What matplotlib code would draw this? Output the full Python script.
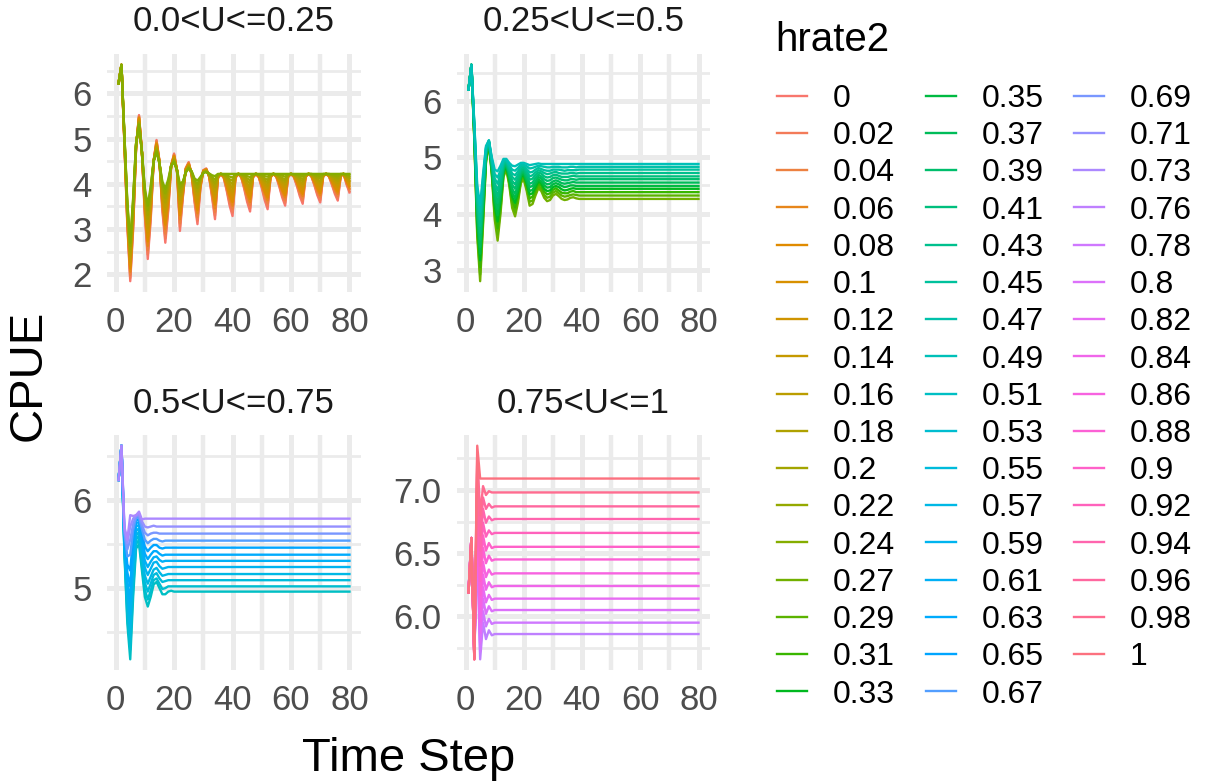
import numpy as np
import matplotlib
matplotlib.use("Agg")
import matplotlib.pyplot as plt
from matplotlib.lines import Line2D

plt.rcParams['font.family'] = ['Liberation Sans', 'DejaVu Sans']

# ------------------------------------------------------------------ data
N_STEPS = 80
hrate_labels = ["0", "0.02", "0.04", "0.06", "0.08", "0.1", "0.12", "0.14", "0.16", "0.18",
                "0.2", "0.22", "0.24", "0.27", "0.29", "0.31", "0.33", "0.35", "0.37", "0.39",
                "0.41", "0.43", "0.45", "0.47", "0.49", "0.51", "0.53", "0.55", "0.57", "0.59",
                "0.61", "0.63", "0.65", "0.67", "0.69", "0.71", "0.73", "0.76", "0.78", "0.8",
                "0.82", "0.84", "0.86", "0.88", "0.9", "0.92", "0.94", "0.96", "0.98", "1"]
facet_labels = ["0.0<U<=0.25", "0.25<U<=0.5", "0.5<U<=0.75", "0.75<U<=1"]

# Panel 1 (hrate 0 ... 0.24): CPUE per time step (flat tail held at final value)
p1_series = [
    [6.22, 6.63, 4.90, 3.10, 1.85, 3.00, 4.80, 5.52, 4.70, 3.30,
     2.34, 3.20, 4.50, 4.97, 4.50, 3.40, 2.70, 3.40, 4.40, 4.67,
     4.30, 2.96, 3.70, 4.35, 4.48, 4.20, 3.60, 3.11, 3.90, 4.30,
     4.34, 4.15, 3.70, 3.22, 4.12, 4.22, 4.13, 3.85, 3.52, 3.29,
     4.13, 4.22, 4.14, 3.89, 3.60, 3.39, 4.14, 4.22, 4.14, 3.91,
     3.64, 3.44, 4.14, 4.22, 4.15, 3.94, 3.70, 3.52, 4.15, 4.22,
     4.15, 3.96, 3.73, 3.56, 4.15, 4.22, 4.16, 3.97, 3.75, 3.59,
     4.16, 4.22, 4.16, 3.98, 3.78, 3.63, 4.16, 4.22, 3.99, 3.81],
    [6.22, 6.63, 4.92, 3.14, 1.92, 3.06, 4.81, 5.50, 4.70, 3.35,
     2.44, 3.26, 4.50, 4.95, 4.50, 3.45, 2.80, 3.46, 4.40, 4.65,
     4.30, 3.05, 3.73, 4.34, 4.47, 4.21, 3.64, 3.19, 3.92, 4.30,
     4.33, 4.16, 3.74, 3.30, 4.13, 4.22, 4.14, 3.88, 3.58, 3.37,
     4.14, 4.22, 4.15, 3.92, 3.65, 3.46, 4.15, 4.22, 4.15, 3.94,
     3.69, 3.51, 4.15, 4.22, 4.16, 3.96, 3.74, 3.58, 4.16, 4.22,
     4.16, 3.98, 3.77, 3.62, 4.16, 4.22, 4.17, 3.99, 3.79, 3.64,
     4.17, 4.22, 4.17, 4.00, 3.82, 3.68, 4.17, 4.22, 4.01, 3.84],
    [6.22, 6.63, 4.93, 3.18, 1.99, 3.12, 4.82, 5.48, 4.70, 3.40,
     2.54, 3.33, 4.50, 4.93, 4.49, 3.51, 2.90, 3.52, 4.40, 4.64,
     4.30, 3.13, 3.76, 4.33, 4.46, 4.21, 3.69, 3.27, 3.94, 4.29,
     4.33, 4.16, 3.78, 3.38, 4.14, 4.22, 4.15, 3.91, 3.64, 3.45,
     4.15, 4.22, 4.15, 3.95, 3.70, 3.53, 4.15, 4.22, 4.15, 3.96,
     3.74, 3.57, 4.15, 4.22, 4.16, 3.99, 3.79, 3.64, 4.16, 4.22,
     4.16, 4.00, 3.81, 3.67, 4.16, 4.22, 4.17, 4.01, 3.83, 3.70,
     4.17, 4.22, 4.17, 4.02, 3.85, 3.73, 4.17, 4.22, 4.03, 3.88],
    [6.22, 6.63, 4.95, 3.23, 2.06, 3.18, 4.83, 5.47, 4.70, 3.45,
     2.63, 3.39, 4.50, 4.91, 4.49, 3.56, 3.00, 3.58, 4.40, 4.62,
     4.30, 3.22, 3.79, 4.33, 4.45, 4.22, 3.73, 3.35, 3.96, 4.29,
     4.32, 4.17, 3.82, 3.46, 4.15, 4.22, 4.15, 3.94, 3.70, 3.52,
     4.15, 4.22, 4.16, 3.97, 3.76, 3.60, 4.16, 4.22, 4.16, 3.99,
     3.79, 3.64, 4.16, 4.22, 4.17, 4.01, 3.83, 3.70, 4.17, 4.22,
     4.17, 4.03, 3.85, 3.73, 4.17, 4.22, 4.18, 4.03, 3.87, 3.75,
     4.18, 4.22, 4.18, 4.04, 3.89, 3.78, 4.18, 4.22, 4.05, 3.91],
    [6.22, 6.63, 4.97, 3.27, 2.13, 3.23, 4.83, 5.45, 4.70, 3.50,
     2.73, 3.45, 4.50, 4.88, 4.48, 3.62, 3.10, 3.63, 4.40, 4.61,
     4.30, 3.31, 3.82, 4.32, 4.43, 4.23, 3.77, 3.43, 3.98, 4.28,
     4.31, 4.18, 3.86, 3.54, 4.15, 4.22, 4.16, 3.97, 3.75, 3.60,
     4.16, 4.22, 4.17, 4.00, 3.81, 3.67, 4.17, 4.22, 4.17, 4.01,
     3.83, 3.70, 4.17, 4.22, 4.17, 4.03, 3.87, 3.75, 4.17, 4.22,
     4.17, 4.05, 3.89, 3.78, 4.17, 4.22, 4.18, 4.05, 3.91, 3.80,
     4.18, 4.22, 4.18, 4.06, 3.93, 3.83, 4.18, 4.22, 4.07, 3.95],
    [6.22, 6.63, 4.98, 3.31, 2.20, 3.29, 4.84, 5.43, 4.70, 3.55,
     2.83, 3.51, 4.50, 4.86, 4.48, 3.67, 3.20, 3.69, 4.40, 4.59,
     4.30, 3.39, 3.85, 4.31, 4.42, 4.23, 3.82, 3.51, 4.00, 4.28,
     4.31, 4.18, 3.90, 3.62, 4.16, 4.22, 4.17, 4.00, 3.81, 3.68,
     4.17, 4.22, 4.17, 4.03, 3.86, 3.74, 4.17, 4.22, 4.17, 4.04,
     3.88, 3.77, 4.17, 4.22, 4.18, 4.06, 3.92, 3.81, 4.18, 4.22,
     4.18, 4.07, 3.93, 3.84, 4.18, 4.22, 4.19, 4.07, 3.94, 3.85,
     4.19, 4.22, 4.19, 4.08, 3.96, 3.88, 4.19, 4.22, 4.09, 3.98],
    [6.22, 6.63, 5.00, 3.35, 2.28, 3.35, 4.85, 5.41, 4.70, 3.60,
     2.93, 3.58, 4.50, 4.84, 4.48, 3.73, 3.30, 3.75, 4.40, 4.58,
     4.30, 3.48, 3.88, 4.30, 4.41, 4.24, 3.86, 3.59, 4.03, 4.27,
     4.30, 4.19, 3.95, 3.70, 4.17, 4.22, 4.18, 4.04, 3.87, 3.76,
     4.18, 4.22, 4.18, 4.06, 3.91, 3.81, 4.18, 4.22, 4.18, 4.07,
     3.93, 3.83, 4.18, 4.22, 4.19, 4.08, 3.96, 3.87, 4.19, 4.22,
     4.19, 4.09, 3.98, 3.89, 4.19, 4.22, 4.19, 4.10, 3.98, 3.91,
     4.19, 4.22, 4.19, 4.10, 4.00, 3.93, 4.19, 4.22, 4.11, 4.02],
    [6.22, 6.63, 5.02, 3.39, 2.35, 3.41, 4.86, 5.39, 4.70, 3.65,
     3.03, 3.64, 4.50, 4.82, 4.47, 3.78, 3.39, 3.81, 4.40, 4.56,
     4.30, 3.57, 3.90, 4.29, 4.40, 4.25, 3.90, 3.67, 4.05, 4.27,
     4.29, 4.20, 3.99, 3.77, 4.18, 4.22, 4.18, 4.07, 3.93, 3.83,
     4.18, 4.22, 4.19, 4.08, 3.96, 3.87, 4.19, 4.22, 4.19, 4.09,
     3.98, 3.90, 4.19, 4.22, 4.19, 4.10, 4.00, 3.93, 4.19, 4.22,
     4.19, 4.11, 4.02, 3.95, 4.19, 4.22, 4.20, 4.12, 4.02, 3.96,
     4.20, 4.22, 4.20, 4.12, 4.04, 3.97, 4.20, 4.22, 4.13, 4.05],
    [6.22, 6.63, 5.03, 3.43, 2.42, 3.47, 4.87, 5.37, 4.70, 3.70,
     3.13, 3.70, 4.50, 4.80, 4.47, 3.83, 3.49, 3.87, 4.40, 4.54,
     4.30, 3.65, 3.93, 4.28, 4.39, 4.25, 3.95, 3.75, 4.07, 4.26,
     4.29, 4.20, 4.03, 3.85, 4.19, 4.22, 4.19, 4.10, 3.99, 3.91,
     4.19, 4.22, 4.19, 4.11, 4.01, 3.94, 4.19, 4.22, 4.19, 4.12,
     4.03, 3.96, 4.19, 4.22, 4.20, 4.13, 4.05, 3.99, 4.20, 4.22,
     4.20, 4.14, 4.06, 4.00, 4.20, 4.22, 4.20, 4.14, 4.06, 4.01,
     4.20, 4.22, 4.20, 4.14, 4.07, 4.02, 4.20, 4.22, 4.14, 4.08],
    [6.22, 6.63, 5.05, 3.48, 2.49, 3.53, 4.88, 5.36, 4.70, 3.75,
     3.23, 3.76, 4.50, 4.78, 4.46, 3.89, 3.59, 3.93, 4.40, 4.53,
     4.30, 3.74, 3.96, 4.28, 4.38, 4.26, 3.99, 3.83, 4.09, 4.26,
     4.28, 4.21, 4.07, 3.93, 4.20, 4.22, 4.20, 4.13, 4.05, 3.99,
     4.20, 4.22, 4.20, 4.14, 4.07, 4.01, 4.20, 4.22, 4.20, 4.14,
     4.08, 4.03, 4.20, 4.22, 4.20, 4.15, 4.09, 4.05, 4.20, 4.22,
     4.20, 4.16, 4.10, 4.06, 4.20, 4.22, 4.21, 4.16, 4.10, 4.06,
     4.21, 4.22, 4.21, 4.16, 4.11, 4.07, 4.21, 4.22, 4.16, 4.12],
    [6.22, 6.63, 5.07, 3.52, 2.56, 3.58, 4.88, 5.34, 4.70, 3.80,
     3.32, 3.83, 4.50, 4.75, 4.46, 3.94, 3.69, 3.98, 4.40, 4.51,
     4.30, 3.83, 3.99, 4.27, 4.36, 4.27, 4.03, 3.91, 4.11, 4.25,
     4.27, 4.22, 4.11, 4.01, 4.20, 4.22, 4.21, 4.16, 4.10, 4.07,
     4.21, 4.22, 4.21, 4.17, 4.12, 4.08, 4.21, 4.22, 4.21, 4.17,
     4.12, 4.09, 4.21, 4.22, 4.21, 4.17, 4.13, 4.10, 4.21, 4.22,
     4.21, 4.18, 4.14, 4.11, 4.21, 4.22, 4.21, 4.18, 4.14, 4.12,
     4.21, 4.22, 4.21, 4.18, 4.15, 4.12, 4.21, 4.22, 4.18, 4.15],
    [6.22, 6.63, 5.08, 3.56, 2.63, 3.64, 4.89, 5.32, 4.70, 3.85,
     3.42, 3.89, 4.50, 4.73, 4.45, 4.00, 3.79, 4.04, 4.40, 4.50,
     4.30, 3.91, 4.02, 4.26, 4.35, 4.27, 4.08, 3.99, 4.13, 4.25,
     4.27, 4.22, 4.15, 4.09, 4.21, 4.22, 4.21, 4.19, 4.16, 4.14,
     4.21, 4.22, 4.21, 4.19, 4.17, 4.15, 4.21, 4.22, 4.21, 4.19,
     4.17, 4.16, 4.21, 4.22, 4.21, 4.20, 4.18, 4.16, 4.21, 4.22,
     4.21, 4.20, 4.18, 4.17, 4.21, 4.22, 4.22, 4.20, 4.18, 4.17,
     4.22, 4.22, 4.22, 4.20, 4.18, 4.17, 4.22, 4.22, 4.20, 4.19],
    [6.22, 6.63, 5.10, 3.60, 2.70, 3.70, 4.90, 5.30, 4.70, 3.90,
     3.52, 3.95, 4.50, 4.71, 4.45, 4.05, 3.89, 4.10, 4.40, 4.48,
     4.30, 4.00, 4.05, 4.25, 4.34, 4.28, 4.12, 4.07, 4.15, 4.24,
     4.26, 4.23, 4.19, 4.17, 4.22],
]
p1_final = [3.81, 3.84, 3.88, 3.91, 3.95, 3.98, 4.02, 4.05, 4.08, 4.12, 4.15, 4.19, 4.22]

# Panel 2 (hrate 0.27 ... 0.49)
p2_series = [
    [6.20, 6.64, 5.30, 3.60, 2.80, 3.80, 4.90, 5.25, 4.70, 3.90, 3.52, 4.00, 4.65, 4.78, 4.50, 4.10, 3.95, 4.20, 4.55, 4.60,
     4.40, 4.14, 4.17, 4.32, 4.45, 4.40, 4.28, 4.22, 4.24, 4.32, 4.35, 4.31, 4.26, 4.24, 4.25, 4.28, 4.29, 4.27],
    [6.20, 6.64, 5.33, 3.68, 2.92, 3.88, 4.93, 5.25, 4.73, 3.98, 3.63, 4.08, 4.68, 4.80, 4.54, 4.17, 4.03, 4.26, 4.58, 4.63,
     4.44, 4.21, 4.23, 4.37, 4.49, 4.44, 4.33, 4.28, 4.30, 4.37, 4.40, 4.36, 4.32, 4.30, 4.31, 4.33, 4.34, 4.33],
    [6.20, 6.64, 5.35, 3.76, 3.05, 3.96, 4.95, 5.26, 4.75, 4.06, 3.74, 4.15, 4.71, 4.82, 4.57, 4.24, 4.11, 4.32, 4.61, 4.65,
     4.49, 4.27, 4.30, 4.42, 4.53, 4.49, 4.39, 4.34, 4.36, 4.42, 4.45, 4.41, 4.37, 4.36, 4.36, 4.39, 4.40, 4.38],
    [6.20, 6.64, 5.38, 3.85, 3.17, 4.05, 4.98, 5.26, 4.78, 4.14, 3.86, 4.23, 4.74, 4.83, 4.61, 4.30, 4.19, 4.38, 4.65, 4.68,
     4.53, 4.34, 4.36, 4.47, 4.57, 4.53, 4.44, 4.40, 4.41, 4.47, 4.49, 4.47, 4.43, 4.41, 4.42, 4.44, 4.45, 4.44],
    [6.20, 6.64, 5.41, 3.93, 3.29, 4.13, 5.01, 5.27, 4.81, 4.22, 3.97, 4.31, 4.77, 4.85, 4.65, 4.37, 4.27, 4.44, 4.68, 4.71,
     4.57, 4.40, 4.42, 4.52, 4.61, 4.57, 4.50, 4.46, 4.47, 4.52, 4.54, 4.52, 4.49, 4.47, 4.48, 4.50, 4.50, 4.49],
    [6.20, 6.64, 5.44, 4.01, 3.41, 4.21, 5.04, 5.27, 4.84, 4.30, 4.08, 4.39, 4.80, 4.87, 4.68, 4.44, 4.35, 4.50, 4.71, 4.74,
     4.62, 4.47, 4.49, 4.57, 4.65, 4.62, 4.55, 4.52, 4.53, 4.57, 4.59, 4.57, 4.54, 4.53, 4.54, 4.55, 4.56, 4.55],
    [6.20, 6.64, 5.46, 4.09, 3.54, 4.29, 5.06, 5.27, 4.86, 4.38, 4.19, 4.46, 4.82, 4.88, 4.72, 4.51, 4.44, 4.57, 4.74, 4.76,
     4.66, 4.53, 4.55, 4.63, 4.69, 4.66, 4.61, 4.58, 4.59, 4.63, 4.64, 4.62, 4.60, 4.59, 4.59, 4.61, 4.61, 4.60],
    [6.20, 6.64, 5.49, 4.17, 3.66, 4.37, 5.09, 5.28, 4.89, 4.46, 4.30, 4.54, 4.85, 4.90, 4.75, 4.58, 4.52, 4.63, 4.77, 4.79,
     4.71, 4.60, 4.62, 4.68, 4.73, 4.71, 4.66, 4.64, 4.65, 4.68, 4.69, 4.67, 4.65, 4.65, 4.65, 4.66, 4.67, 4.66],
    [6.20, 6.64, 5.52, 4.25, 3.78, 4.45, 5.12, 5.29, 4.92, 4.54, 4.41, 4.62, 4.88, 4.92, 4.79, 4.65, 4.60, 4.69, 4.80, 4.82,
     4.75, 4.66, 4.68, 4.73, 4.77, 4.75, 4.72, 4.70, 4.71, 4.73, 4.74, 4.72, 4.71, 4.71, 4.71, 4.72, 4.72, 4.71],
    [6.20, 6.64, 5.55, 4.34, 3.90, 4.54, 5.15, 5.29, 4.95, 4.62, 4.53, 4.70, 4.91, 4.94, 4.83, 4.71, 4.68, 4.75, 4.84, 4.85,
     4.79, 4.73, 4.74, 4.78, 4.81, 4.79, 4.77, 4.76, 4.76, 4.78, 4.78, 4.78, 4.77, 4.76, 4.77, 4.77, 4.77, 4.77],
    [6.20, 6.64, 5.57, 4.42, 4.03, 4.62, 5.17, 5.30, 4.97, 4.70, 4.64, 4.77, 4.94, 4.95, 4.86, 4.78, 4.76, 4.81, 4.87, 4.87,
     4.84, 4.80, 4.81, 4.83, 4.85, 4.84, 4.83, 4.82, 4.82, 4.83, 4.83, 4.83, 4.82, 4.82, 4.82, 4.83, 4.83, 4.82],
    [6.20, 6.64, 5.60, 4.50, 4.15, 4.70, 5.20, 5.30, 5.00, 4.78, 4.75, 4.85, 4.97, 4.97, 4.90, 4.85, 4.84, 4.87, 4.90, 4.90,
     4.88, 4.86, 4.87, 4.88, 4.89],
]
p2_final = [4.26, 4.32, 4.38, 4.44, 4.49, 4.55, 4.61, 4.66, 4.72, 4.78, 4.83, 4.88]

# Panel 3 (hrate 0.51 ... 0.73)
p3_series = [
    [6.23, 6.62, 5.40, 4.60, 4.19, 4.90, 5.45, 5.50, 5.20, 4.90, 4.79, 4.90, 5.04, 5.07, 5.00, 4.93, 4.93, 4.96, 4.97],
    [6.23, 6.62, 5.42, 4.68, 4.30, 5.00, 5.50, 5.55, 5.25, 4.98, 4.87, 4.97, 5.09, 5.11, 5.05, 4.99, 5.00, 5.02],
    [6.23, 6.62, 5.45, 4.78, 4.42, 5.10, 5.55, 5.60, 5.32, 5.06, 4.96, 5.05, 5.15, 5.17, 5.11, 5.07, 5.08],
    [6.23, 6.62, 5.48, 4.88, 4.55, 5.20, 5.60, 5.64, 5.38, 5.14, 5.05, 5.13, 5.21, 5.23, 5.18, 5.14, 5.15],
    [6.23, 6.62, 5.50, 4.98, 4.70, 5.30, 5.65, 5.68, 5.45, 5.23, 5.15, 5.22, 5.29, 5.30, 5.25, 5.22, 5.23],
    [6.23, 6.62, 5.53, 5.08, 4.86, 5.40, 5.70, 5.72, 5.51, 5.31, 5.24, 5.30, 5.35, 5.36, 5.32, 5.30],
    [6.23, 6.62, 5.56, 5.18, 5.02, 5.50, 5.74, 5.75, 5.57, 5.39, 5.33, 5.38, 5.42, 5.42, 5.39, 5.37],
    [6.23, 6.62, 5.59, 5.27, 5.20, 5.58, 5.77, 5.78, 5.62, 5.47, 5.42, 5.46, 5.49, 5.49, 5.46, 5.45],
    [6.23, 6.62, 5.62, 5.36, 5.38, 5.66, 5.80, 5.80, 5.67, 5.55, 5.51, 5.54, 5.56, 5.56, 5.54, 5.53],
    [6.23, 6.62, 5.65, 5.44, 5.55, 5.73, 5.82, 5.82, 5.72, 5.63, 5.60, 5.62, 5.63, 5.63],
    [6.23, 6.62, 5.68, 5.51, 5.70, 5.79, 5.83, 5.84, 5.76, 5.70, 5.69, 5.70, 5.71],
    [6.23, 6.62, 5.70, 5.55, 5.83, 5.82, 5.83, 5.87, 5.78],
]
p3_final = [4.96, 5.02, 5.09, 5.16, 5.24, 5.31, 5.38, 5.46, 5.54, 5.62, 5.70, 5.79]

# Panel 4 (hrate 0.76 ... 1)
p4_series = [
    [6.19, 6.62, 5.70, 6.55, 5.66, 5.95, 5.82, 5.89, 5.85],
    [6.19, 6.62, 5.69, 6.62, 5.72, 6.04, 5.92, 5.98, 5.94],
    [6.19, 6.62, 5.69, 6.69, 5.79, 6.14, 6.02, 6.08, 6.04],
    [6.19, 6.62, 5.68, 6.76, 5.87, 6.23, 6.11, 6.17, 6.13],
    [6.19, 6.62, 5.68, 6.83, 5.96, 6.33, 6.21, 6.27, 6.23],
    [6.19, 6.62, 5.68, 6.90, 6.06, 6.43, 6.31, 6.37, 6.33],
    [6.19, 6.62, 5.67, 6.97, 6.17, 6.54, 6.42, 6.48, 6.44],
    [6.19, 6.62, 5.67, 7.04, 6.28, 6.64, 6.52, 6.58, 6.54],
    [6.19, 6.62, 5.67, 7.10, 6.40, 6.74, 6.63, 6.68, 6.65],
    [6.19, 6.62, 5.66, 7.17, 6.52, 6.85, 6.74, 6.79, 6.76],
    [6.19, 6.62, 5.66, 7.23, 6.64, 6.94, 6.85, 6.89, 6.86],
    [6.19, 6.62, 5.66, 7.29, 6.80, 7.03, 6.96, 6.99, 6.98],
    [6.19, 6.62, 5.66, 7.35, 7.09],
]
p4_final = [5.86, 5.95, 6.05, 6.14, 6.24, 6.34, 6.45, 6.55, 6.66, 6.77, 6.87, 6.98, 7.09]

x_major = [0, 20, 40, 60, 80]
x_minor = [10, 30, 50, 70]
y_major = [[2, 3, 4, 5, 6], [3, 4, 5, 6], [5, 6], [6.0, 6.5, 7.0]]
y_major_labels = [["2", "3", "4", "5", "6"], ["3", "4", "5", "6"], ["5", "6"], ["6.0", "6.5", "7.0"]]
y_minor = [[2.5, 3.5, 4.5, 5.5, 6.5], [3.5, 4.5, 5.5, 6.5], [4.5, 5.5, 6.5], [5.75, 6.25, 6.75, 7.25]]


# ------------------------------------------------------------------ colours (ggplot hue palette)
def hcl_hex(h, c=100.0, l=65.0):
    hr = np.deg2rad(h)
    u, v = c * np.cos(hr), c * np.sin(hr)
    Xn, Yn, Zn = 95.047, 100.0, 108.883
    Y = Yn * ((l + 16) / 116) ** 3
    den = Xn + 15 * Yn + 3 * Zn
    un, vn = 4 * Xn / den, 9 * Yn / den
    up, vp = u / (13 * l) + un, v / (13 * l) + vn
    X = 9 * Y * up / (4 * vp)
    Z = -X / 3 - 5 * Y + 3 * Y / vp
    X, Y, Z = X / 100, Y / 100, Z / 100
    rgb = [3.240479 * X - 1.537150 * Y - 0.498535 * Z,
           -0.969256 * X + 1.875992 * Y + 0.041556 * Z,
           0.055648 * X - 0.204043 * Y + 1.057311 * Z]
    out = []
    for ch in rgb:
        ch = 1.055 * ch ** (1 / 2.4) - 0.055 if ch > 0.0031308 else 12.92 * ch
        out.append(min(max(ch, 0.0), 1.0))
    return tuple(out)


n_levels = len(hrate_labels)
colors = [hcl_hex(15 + 360.0 * i / n_levels) for i in range(n_levels)]

# ------------------------------------------------------------------ figure
W, H = 1206, 783
fig = plt.figure(figsize=(W / 100, H / 100), dpi=100)
fig.patch.set_facecolor('white')


def frac_rect(x0, y0, x1, y1):
    return [x0 / W, 1 - y1 / H, (x1 - x0) / W, (y1 - y0) / H]


rects = [frac_rect(107, 54, 361, 292), frac_rect(457, 54, 710, 292),
         frac_rect(107, 435, 361, 670), frac_rect(457, 435, 710, 670)]

panels = [(p1_series, p1_final), (p2_series, p2_final), (p3_series, p3_final), (p4_series, p4_final)]

GRID = '#EBEBEB'
start = 0
for pi, (series, finals) in enumerate(panels):
    ax = fig.add_axes(rects[pi])
    ax.set_facecolor('white')
    for j, (vals, fin) in enumerate(zip(series, finals)):
        vals = list(vals) + [fin] * max(0, N_STEPS - len(vals))
        t = np.arange(1, len(vals) + 1)
        ax.plot(t, vals, color=colors[start + j], lw=1.7, solid_joinstyle='round', zorder=3)
    start += len(series)
    ax.margins(x=0.05, y=0.05)
    ax.set_xticks(x_major)
    ax.set_xticks(x_minor, minor=True)
    ax.set_yticks(y_major[pi])
    ax.set_yticklabels(y_major_labels[pi])
    ax.set_yticks(y_minor[pi], minor=True)
    ax.grid(which='major', axis='both', color=GRID, lw=3.6, zorder=0)
    ax.grid(which='minor', axis='x', color=GRID, lw=3.2, zorder=0)
    ax.grid(which='minor', axis='y', color=GRID, lw=2.0, zorder=0)
    ax.set_axisbelow(True)
    for s in ax.spines.values():
        s.set_visible(False)
    ax.tick_params(which='both', length=0)
    ax.tick_params(axis='x', labelsize=25, labelcolor='#4D4D4D', pad=10)
    ax.tick_params(axis='y', labelsize=25, labelcolor='#4D4D4D', pad=11)
    ax.text(0.5, 1.135, facet_labels[pi], transform=ax.transAxes, ha='center', va='center',
            fontsize=25, color='#1A1A1A')

fig.text((107 + 710) / 2 / W, 1 - 771 / H, 'Time Step', ha='center', va='baseline', fontsize=34, color='black')
fig.text(29 / W, 1 - 375 / H, 'CPUE', ha='center', va='center', rotation=90, fontsize=34, color='black')

# legend
handles = [Line2D([], [], color=colors[i], lw=1.7) for i in range(n_levels)]
fig.text(775 / W, 1 - 40 / H, 'hrate2', ha='left', va='center', fontsize=29, color='black')
fig.legend(handles, hrate_labels, ncol=3, loc='upper left', bbox_to_anchor=(777 / W, 1 - 84 / H),
           frameon=False, fontsize=23, handlelength=0.95, handletextpad=0.8, columnspacing=0.95,
           labelspacing=0.226, borderpad=0, borderaxespad=0)

fig.savefig('out.png', dpi=100, facecolor='white')
